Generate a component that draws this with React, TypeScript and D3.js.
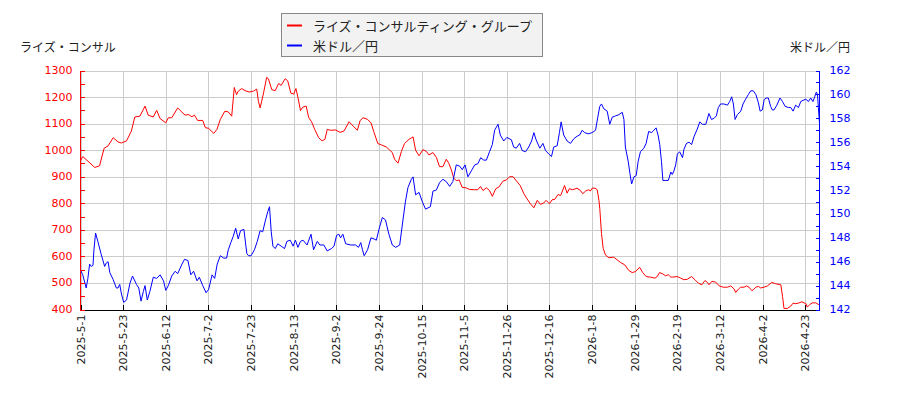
import React, { useEffect } from "react";
import * as d3 from "d3";

// ---- data (x = trading-day number since 2025-5-1) ----
const xTickDays = [0, 15, 30, 45, 60, 75, 90, 105, 120, 135, 150, 165, 180, 195, 210, 225, 240, 255];
const xTickLabels = [
  "2025-5-1", "2025-5-23", "2025-6-12", "2025-7-2", "2025-7-23", "2025-8-13", "2025-9-2",
  "2025-9-24", "2025-10-15", "2025-11-5", "2025-11-26", "2025-12-16", "2026-1-8",
  "2026-1-29", "2026-2-19", "2026-3-12", "2026-4-2", "2026-4-23",
];
const leftTicks = [400, 500, 600, 700, 800, 900, 1000, 1100, 1200, 1300];
const rightTicks = [142, 144, 146, 148, 150, 152, 154, 156, 158, 160, 162];

const seriesNames = ["ライズ・コンサルティング・グループ", "米ドル／円"];
const leftTitle = "ライズ・コンサル";
const rightTitle = "米ドル／円";

const stockSeries: [number, number][] = [
  [0, 960], [0.8, 976], [3, 955], [5, 935], [6.7, 941], [8.3, 1007], [9.7, 1016], [11.5, 1047], [13.2, 1031],
  [14.4, 1027], [16.2, 1035], [17.9, 1072], [19.1, 1125], [20.9, 1128], [22.7, 1166], [23.8, 1132], [25.6, 1125],
  [26.8, 1150], [28, 1119], [30, 1103], [30.9, 1122], [32.1, 1122], [34.2, 1159], [35.7, 1143], [36.8, 1132],
  [38, 1134], [39.2, 1126], [40.1, 1132], [41.2, 1112], [43, 1112], [43.9, 1085], [45.1, 1082], [46.9, 1063],
  [48, 1078], [49.2, 1116], [50.8, 1147], [52, 1144], [53.2, 1128], [54.1, 1236], [54.9, 1209], [55.5, 1222],
  [56.7, 1232], [57.9, 1224], [59.3, 1219], [60.8, 1222], [62, 1230], [62.6, 1184], [63.2, 1159], [64.4, 1215],
  [65.5, 1274], [66.1, 1269], [67.3, 1228], [68.5, 1224], [69.7, 1251], [70.6, 1244], [72, 1269], [72.9, 1261],
  [74, 1215], [75, 1211], [75.8, 1232], [76.5, 1199], [77.4, 1149], [78.2, 1162], [79.4, 1166], [80.3, 1122],
  [81.3, 1107], [82.4, 1078], [83.8, 1047], [85, 1035], [86, 1041], [86.8, 1078], [88, 1075], [89.8, 1076],
  [91.3, 1067], [92.7, 1072], [94.5, 1107], [95.9, 1091], [97.4, 1075], [98.4, 1112], [99.4, 1122], [101, 1116],
  [102.2, 1103], [103.3, 1066], [104.6, 1025], [105.8, 1020], [107.6, 1012], [108.8, 1000], [109.7, 991],
  [110.5, 966], [111.7, 951], [112.9, 995], [114, 1025], [115.6, 1041], [117, 1050], [117.9, 1000], [119.1, 979],
  [120.5, 1002], [121.7, 995], [122.6, 982], [124, 991], [125.2, 973], [126.3, 938], [127.5, 938], [128.7, 966],
  [129.6, 950], [130.5, 925], [131.3, 895], [132.2, 885], [133.2, 888], [134.3, 860], [135.7, 858], [136.9, 852],
  [138.7, 851], [139.8, 851], [140.7, 863], [141.6, 848], [142.8, 858], [143.9, 848], [144.9, 826], [146.1, 855],
  [147.2, 861], [148.6, 883], [149.8, 888], [151, 900], [152.2, 900], [153.3, 885], [154.7, 867], [156, 836],
  [157.1, 817], [158.3, 798], [159.5, 783], [160.7, 811], [161.8, 796], [163, 801], [163.8, 811], [165, 798],
  [165.9, 813], [166.9, 815], [168, 833], [168.9, 829], [169.7, 850], [170.3, 867], [171.2, 838], [172, 855],
  [173.2, 851], [174.7, 857], [175.9, 848], [176.7, 836], [177.7, 846], [178.8, 851], [179.4, 846], [180, 857],
  [181, 857], [181.8, 851], [182.4, 811], [182.7, 780], [183.3, 686], [183.9, 630], [184.7, 605], [185.9, 595],
  [187.6, 597], [188.8, 587], [190, 577], [191.5, 568], [192.9, 547], [194.1, 539], [195.3, 543], [196.7, 559],
  [197.8, 539], [199, 524], [200.5, 522], [202.1, 518], [202.9, 524], [203.7, 539], [204.9, 534], [205.8, 527],
  [206.8, 531], [207.7, 522], [208.2, 522], [210, 524], [211.2, 518], [212.3, 512], [213.5, 514], [215, 524],
  [216.2, 512], [217.4, 499], [218.6, 493], [219.7, 509], [220.6, 502], [221.1, 493], [222.1, 506], [223.5, 503],
  [224.7, 489], [226.1, 484], [227.6, 484], [228.8, 489], [230, 477], [230.5, 464], [231.5, 477], [232.3, 484],
  [233.5, 484], [234.3, 489], [235.2, 484], [236.2, 471], [236.7, 474], [237.6, 484], [238.5, 487], [239.3, 481],
  [240.5, 484], [241.7, 489], [243.2, 502], [244.6, 497], [246.4, 493], [247, 449], [247.5, 404], [248.7, 404],
  [249.9, 413], [250.7, 424], [251.6, 422], [252.6, 424], [253.8, 429], [254.6, 425], [255.2, 422], [255.7, 409],
  [256.6, 419], [257.5, 425], [258.7, 425], [259.6, 419], [260, 417],
];

const fxSeries: [number, number][] = [
  [0, 145.3], [0.8, 144.9], [2, 143.8], [2.6, 144.6], [3.2, 145.8], [3.8, 145.6], [4.4, 145.7], [4.7, 146.9],
  [5.3, 148.4], [6.1, 147.7], [7.3, 146.6], [8.5, 145.6], [9.1, 145.9], [9.7, 146.0], [10.3, 145.1], [11.5, 144.5],
  [12.6, 143.8], [13.2, 143.8], [13.8, 144.1], [14.4, 143.3], [15.2, 142.6], [16.2, 142.8], [17.4, 144.2],
  [18.3, 144.8], [19.7, 144.1], [20.5, 143.8], [21.3, 142.7], [22.1, 143.5], [22.7, 144.0], [23.5, 142.8],
  [24.4, 143.5], [25.6, 144.7], [26.8, 144.6], [28, 144.9], [29.2, 144.4], [30, 143.6], [30.9, 144.0],
  [32.1, 144.8], [33.3, 145.2], [34.2, 145.0], [35.7, 145.8], [36.6, 146.2], [37.8, 146.1], [38.8, 144.9],
  [39.8, 145.2], [41, 144.4], [41.8, 144.7], [43, 144.0], [44.2, 143.4], [45.1, 143.7], [46.3, 144.9],
  [47.2, 144.6], [48.1, 145.8], [49.2, 146.5], [50.4, 146.3], [51.4, 146.3], [52, 147.0], [52.9, 147.6],
  [53.7, 148.1], [54.6, 148.8], [55.5, 147.9], [56.3, 148.6], [57.5, 148.7], [58.5, 146.7], [59.1, 146.5],
  [60, 146.5], [61.2, 147.0], [62.2, 147.7], [63.2, 148.6], [64.1, 148.5], [65, 149.4], [65.9, 150.2],
  [66.5, 150.6], [67.1, 148.5], [67.7, 147.3], [68.5, 147.1], [69.4, 147.5], [70.6, 147.3], [71.8, 147.1],
  [72.6, 147.7], [73.8, 147.8], [74.8, 147.3], [75.6, 147.8], [76.5, 147.2], [77.4, 147.7], [78.3, 147.8],
  [79.7, 147.4], [81.1, 148.3], [82, 147.0], [83.3, 147.7], [84.2, 147.4], [85.6, 147.4], [86.8, 146.9],
  [88.3, 147.1], [89.2, 147.3], [90.1, 148.2], [90.9, 148.3], [91.5, 148.0], [92.3, 148.3], [93.3, 147.5],
  [95.1, 147.4], [96.8, 147.4], [97.8, 147.2], [98.6, 147.6], [99.2, 147.0], [99.8, 146.5], [101, 147.0],
  [102.2, 148.0], [103.3, 147.9], [104.1, 147.8], [105, 148.7], [106.2, 149.7], [107.3, 149.5], [108.5, 148.3],
  [109.7, 147.4], [110.9, 147.2], [112.3, 147.4], [113.4, 149.4], [114.3, 151.0], [115.2, 152.2], [116.4, 152.9],
  [117, 153.1], [117.9, 151.6], [119.1, 151.8], [120.3, 151.0], [121.4, 150.4], [123.1, 150.6], [124, 151.9],
  [125.2, 152.0], [126.3, 152.6], [127.5, 152.9], [128.7, 152.7], [129.9, 152.3], [131, 152.7], [132.2, 154.1],
  [133.4, 154.0], [134.3, 153.7], [135.3, 154.1], [136.3, 153.1], [137.5, 153.6], [138.7, 154.1], [139.8, 154.2],
  [140.8, 154.7], [141.9, 154.5], [142.8, 154.5], [143.9, 155.2], [144.9, 155.8], [145.7, 157.0], [146.9, 157.5],
  [147.7, 156.6], [148.9, 156.1], [150, 156.4], [151.6, 156.2], [152.4, 155.6], [153.3, 155.5], [154.5, 155.9],
  [155.4, 155.3], [156.6, 155.2], [157.7, 155.6], [158.7, 156.1], [159.5, 156.8], [160.3, 156.2], [161.6, 155.5],
  [162.7, 155.9], [163.6, 155.3], [164.8, 155.0], [165.7, 154.8], [166.5, 155.6], [167.7, 155.7], [168.5, 156.8],
  [169.1, 157.7], [170, 156.6], [171.2, 156.1], [172.4, 155.9], [173.6, 156.3], [174.7, 156.5], [175.6, 156.6],
  [176.5, 157.0], [177.4, 156.8], [178.6, 156.7], [180, 156.8], [181.2, 157.0], [182, 158.1], [182.7, 159.0],
  [183.3, 159.2], [184.1, 158.8], [185.3, 158.6], [186.2, 157.5], [187.1, 158.1], [188.2, 158.2], [189.4, 158.3],
  [190.6, 158.5], [191.2, 157.9], [191.7, 155.6], [192.7, 154.4], [193.3, 153.4], [193.9, 152.5], [194.7, 153.1],
  [195.5, 153.2], [196.2, 154.4], [197, 155.2], [198.2, 155.5], [199, 155.9], [199.9, 156.9], [200.9, 156.8],
  [201.7, 157.0], [202.5, 157.2], [203.2, 156.6], [203.8, 155.8], [204.4, 154.4], [204.9, 152.8], [205.8, 152.8],
  [206.8, 152.8], [207.7, 153.5], [208.2, 153.3], [208.8, 153.6], [209.4, 154.1], [210, 155.0], [210.8, 155.2],
  [211.8, 154.7], [212.3, 155.4], [213.2, 155.9], [214.1, 156.0], [215, 155.8], [215.9, 156.5], [217, 157.1],
  [217.9, 157.7], [218.8, 157.5], [220, 157.5], [221.1, 158.4], [222, 157.9], [222.9, 158.0], [223.7, 158.2],
  [224.4, 158.9], [225.2, 159.2], [226.4, 159.2], [227.6, 159.1], [228.4, 159.4], [229.1, 159.8], [229.7, 159.2],
  [230.3, 157.9], [231.1, 158.3], [232.3, 158.6], [233.1, 159.2], [234, 159.6], [235, 160.0], [235.8, 160.3],
  [236.7, 160.3], [237.6, 160.0], [238.5, 159.3], [239.1, 158.6], [239.9, 158.7], [240.5, 159.5], [241.1, 159.7],
  [242, 159.7], [242.8, 159.0], [243.4, 158.7], [244, 158.7], [245, 159.1], [246.1, 159.7], [247, 159.4],
  [247.9, 159.0], [249.1, 158.9], [249.9, 158.9], [250.7, 158.6], [251.6, 159.1], [252.6, 158.9], [253.4, 159.4],
  [254.2, 159.5], [255.2, 159.6], [256.1, 159.4], [256.9, 159.7], [257.7, 159.4], [258.3, 159.8], [258.9, 160.2],
  [259.3, 160.0], [259.6, 158.9], [260, 157.6],
];

const RED = "#ff0000";
const BLUE = "#0000ff";
const FONT = "'DejaVu Sans', sans-serif";
const JFONT = "'Noto Sans CJK JP', sans-serif";

export default function App() {
  useEffect(() => {
    document.body.style.margin = "0";
  }, []);

  const W = 900, H = 400;
  const L = 80.5, R = 819.5, T = 70.5, B = 309.5;

  const x = d3.scaleLinear().domain([0, 260]).range([L, R]);
  const yL = d3.scaleLinear().domain([400, 1300]).range([B, T]);
  const yR = d3.scaleLinear().domain([142, 162]).range([B, T]);

  const lineL = d3.line<[number, number]>().x((d) => x(d[0])).y((d) => yL(d[1]));
  const lineR = d3.line<[number, number]>().x((d) => x(d[0])).y((d) => yR(d[1]));

  const leftMinor = d3.range(400, 1301, 50);
  const rightMinor = d3.range(142, 162.01, 1);

  return (
    <svg width={W} height={H} style={{ display: "block", background: "#fff" }}>
      {/* grid */}
      <g stroke="#cccccc" strokeWidth={1} shapeRendering="crispEdges">
        {leftTicks.map((v) => (
          <line key={"h" + v} x1={L} x2={R} y1={Math.round(yL(v)) + 0.5} y2={Math.round(yL(v)) + 0.5} />
        ))}
        {xTickDays.map((d) => (
          <line key={"v" + d} x1={Math.round(x(d)) + 0.5} x2={Math.round(x(d)) + 0.5} y1={T} y2={B} />
        ))}
      </g>

      {/* series */}
      <path d={lineL(stockSeries) || ""} fill="none" stroke={RED} strokeWidth={1} />
      <path d={lineR(fxSeries) || ""} fill="none" stroke={BLUE} strokeWidth={1} />

      {/* bottom axis */}
      <g shapeRendering="crispEdges">
        <line x1={L} x2={R} y1={B + 0.5} y2={B + 0.5} stroke="#000" />
        {xTickDays.map((d) => (
          <line key={"xt" + d} x1={Math.round(x(d)) + 0.5} x2={Math.round(x(d)) + 0.5} y1={B} y2={B - 5} stroke="#000" />
        ))}
      </g>
      {xTickDays.map((d, i) => (
        <text
          key={"xl" + d}
          transform={`translate(${Math.round(x(d)) + 0.5},${B + 5}) rotate(-90)`}
          textAnchor="end"
          dominantBaseline="central"
          fontFamily={FONT}
          fontSize={11}
          fill="#222"
        >
          {xTickLabels[i]}
        </text>
      ))}

      {/* left axis */}
      <g shapeRendering="crispEdges" stroke={RED}>
        <line x1={L} x2={L} y1={T} y2={B + 1} />
        {leftMinor.map((v) => (
          <line key={"lt" + v} x1={L} x2={L + 4} y1={Math.round(yL(v)) + 0.5} y2={Math.round(yL(v)) + 0.5} />
        ))}
      </g>
      {leftTicks.map((v) => (
        <text key={"ll" + v} x={L - 8} y={yL(v)} textAnchor="end" dominantBaseline="central"
          fontFamily={FONT} fontSize={11} fill={RED}>
          {v}
        </text>
      ))}

      {/* right axis */}
      <g shapeRendering="crispEdges" stroke={BLUE}>
        <line x1={R} x2={R} y1={T} y2={B + 1} />
        {rightMinor.map((v) => (
          <line key={"rt" + v} x1={R - 4} x2={R} y1={Math.round(yR(v)) + 0.5} y2={Math.round(yR(v)) + 0.5} />
        ))}
      </g>
      {rightTicks.map((v) => (
        <text key={"rl" + v} x={R + 10} y={yR(v)} textAnchor="start" dominantBaseline="central"
          fontFamily={FONT} fontSize={11} fill={BLUE}>
          {v}
        </text>
      ))}

      {/* axis titles */}
      <text x={20} y={46} dominantBaseline="central" fontFamily={JFONT} fontSize={12} fill="#222">{leftTitle}</text>
      <text x={850} y={46} textAnchor="end" dominantBaseline="central" fontFamily={JFONT} fontSize={12} fill="#222">{rightTitle}</text>

      {/* legend */}
      <rect x={281.5} y={13.5} width={261} height={43} fill="#f2f2f2" stroke="#888" strokeWidth={1} shapeRendering="crispEdges" />
      <line x1={287} x2={302} y1={25.5} y2={25.5} stroke={RED} strokeWidth={2} />
      <text x={313} y={25} dominantBaseline="central" fontFamily={JFONT} fontSize={13} fill="#222">{seriesNames[0]}</text>
      <line x1={287} x2={302} y1={45.5} y2={45.5} stroke={BLUE} strokeWidth={2} />
      <text x={313} y={45} dominantBaseline="central" fontFamily={JFONT} fontSize={13} fill="#222">{seriesNames[1]}</text>
    </svg>
  );
}
